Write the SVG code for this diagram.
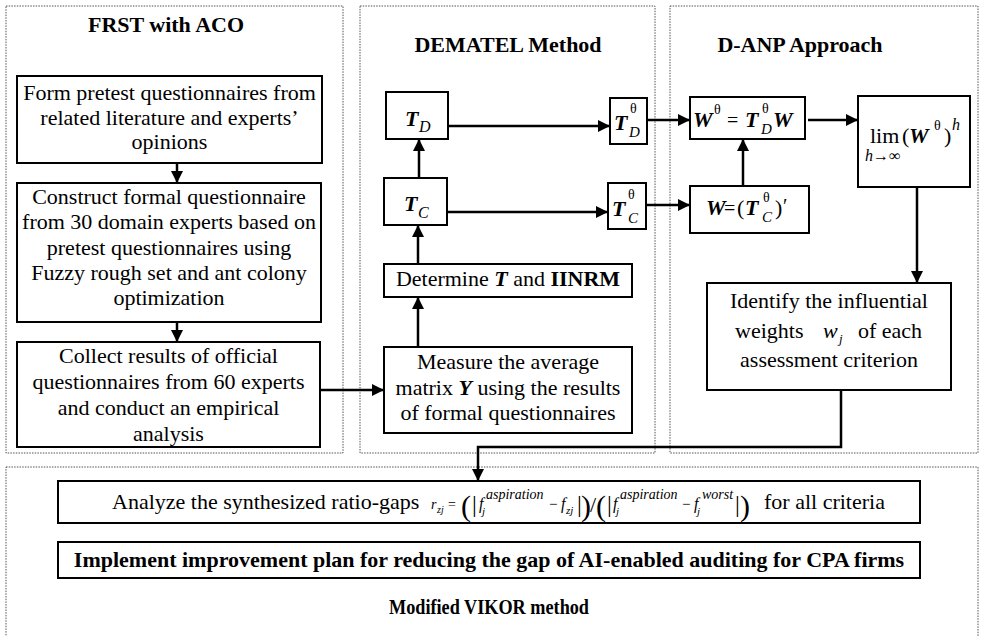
<svg xmlns="http://www.w3.org/2000/svg" width="984" height="636" viewBox="0 0 984 636">
<defs>
<marker id="ah" viewBox="0 0 12 12" refX="12" refY="6" markerWidth="12" markerHeight="12" markerUnits="userSpaceOnUse" orient="auto">
<path d="M0,0 L12,6 L0,12 z" fill="#000"/>
</marker>
<style>
.panel{fill:none;stroke:#555;stroke-width:1;stroke-dasharray:1.5 1.2}
.box{fill:#fff;stroke:#000;stroke-width:2}
text{font-family:"Liberation Serif","Times New Roman",serif;font-size:22px;fill:#000}
.c{text-anchor:middle}
.title{font-weight:bold}
.bi{font-weight:bold;font-style:italic}
.i{font-style:italic}
.b{font-weight:bold}
.conn line,.conn path{stroke:#000;stroke-width:2.5;fill:none;marker-end:url(#ah)}
</style>
</defs>
<rect width="984" height="636" fill="#fff"/>

<g id="panels">
<rect class="panel" x="6" y="6" width="337" height="447"/>
<rect class="panel" x="360" y="6" width="295" height="447"/>
<rect class="panel" x="670" y="6" width="308" height="447"/>
<rect class="panel" x="6" y="467" width="972" height="180"/>
<text class="title c" x="166" y="32">FRST with ACO</text>
<text class="title c" x="508" y="52">DEMATEL Method</text>
<text class="title c" x="800" y="52">D-ANP Approach</text>
<text class="title c" x="489" y="614" textLength="200" lengthAdjust="spacingAndGlyphs">Modified VIKOR method</text>
</g>

<g id="form-pretest">
<rect class="box" x="17" y="76" width="305" height="87"/>
<text class="c" x="169.5" y="100">Form pretest questionnaires from</text>
<text class="c" x="169.5" y="124.5">related literature and experts’</text>
<text class="c" x="169.5" y="149">opinions</text>
</g>

<g id="construct">
<rect class="box" x="17" y="183" width="304" height="139"/>
<text class="c" x="169" y="204">Construct formal questionnaire</text>
<text class="c" x="169" y="229.3">from 30 domain experts based on</text>
<text class="c" x="169" y="254.6">pretest questionnaires using</text>
<text class="c" x="169" y="280">Fuzzy rough set and ant colony</text>
<text class="c" x="169" y="305">optimization</text>
</g>

<g id="collect">
<rect class="box" x="17" y="342" width="303" height="105"/>
<text class="c" x="168.5" y="363">Collect results of official</text>
<text class="c" x="168.5" y="389">questionnaires from 60 experts</text>
<text class="c" x="168.5" y="415">and conduct an empirical</text>
<text class="c" x="168.5" y="441">analysis</text>
</g>

<g id="measure">
<rect class="box" x="384" y="347" width="248" height="86"/>
<text class="c" x="508" y="369">Measure the average</text>
<text class="c" x="508" y="394.5">matrix <tspan class="bi">Y</tspan> using the results</text>
<text class="c" x="508" y="420">of formal questionnaires</text>
</g>

<g id="determine">
<rect class="box" x="384" y="264" width="248" height="33"/>
<text class="c" x="508" y="286">Determine <tspan class="bi">T</tspan> and <tspan class="b">IINRM</tspan></text>
</g>

<g id="tc">
<rect class="box" x="384" y="178" width="63" height="47"/>
<text x="404" y="211" class="bi">T</text>
<text x="418" y="218" class="i" style="font-size:16px">C</text>
</g>

<g id="td">
<rect class="box" x="386" y="92" width="62" height="47"/>
<text x="405" y="126" class="bi">T</text>
<text x="419" y="132" class="i" style="font-size:16px">D</text>
</g>

<g id="td-theta">
<rect class="box" x="610" y="98" width="37" height="46"/>
<text x="614" y="130" class="bi">T</text>
<text x="630" y="113" style="font-size:14px">θ</text>
<text x="629" y="137" class="i" style="font-size:15px">D</text>
</g>

<g id="tc-theta">
<rect class="box" x="608" y="183" width="38" height="46"/>
<text x="612" y="216" class="bi">T</text>
<text x="628" y="199" style="font-size:14px">θ</text>
<text x="628" y="223" class="i" style="font-size:15px">C</text>
</g>

<g id="w-theta">
<rect class="box" x="690" y="97" width="115" height="42"/>
<text x="693" y="127" class="bi">W</text>
<text x="714" y="114" style="font-size:14px">θ</text>
<text x="727" y="127" style="font-size:20px">=</text>
<text x="745" y="127" class="bi">T</text>
<text x="762" y="113" style="font-size:14px">θ</text>
<text x="761" y="134" class="i" style="font-size:15px">D</text>
<text x="773" y="127" class="bi">W</text>
</g>

<g id="w">
<rect class="box" x="690" y="186" width="119" height="47"/>
<text x="706" y="215" class="bi">W</text>
<text x="724" y="215" style="font-size:20px">=</text>
<text x="737" y="215">(</text>
<text x="745" y="215" class="bi">T</text>
<text x="763" y="202" style="font-size:14px">θ</text>
<text x="762" y="222" class="i" style="font-size:15px">C</text>
<text x="775" y="215">)</text>
<text x="783" y="213" style="font-size:20px">′</text>
</g>

<g id="lim">
<rect class="box" x="858" y="96" width="112" height="91"/>
<text x="870" y="143">lim</text>
<text x="902" y="143">(</text>
<text x="909" y="143" class="bi">W</text>
<text x="934" y="130" style="font-size:14px">θ</text>
<text x="944" y="143">)</text>
<text x="952" y="130" class="i" style="font-size:16px">h</text>
<text x="865" y="161" class="i" style="font-size:16px">h→∞</text>
</g>

<g id="identify">
<rect class="box" x="707" y="283" width="244" height="107"/>
<text class="c" x="829" y="308">Identify the influential</text>
<text x="735" y="338">weights</text>
<text x="823" y="338" class="i">w</text>
<text x="839" y="343" class="i" style="font-size:13px">j</text>
<text x="858" y="338">of each</text>
<text class="c" x="829" y="367">assessment criterion</text>
</g>

<g id="analyze">
<rect class="box" x="58" y="481" width="862" height="42"/>
<text x="112" y="509">Analyze the synthesized ratio-gaps</text>
<text x="431" y="509" class="i" style="font-size:14px">r</text>
<text x="437" y="513" class="i" style="font-size:10px">zj</text>
<text x="448" y="509" style="font-size:14px">=</text>
<text x="461" y="516" style="font-size:30px">(</text>
<text x="472" y="512" style="font-size:24px">|</text>
<text x="479" y="509" class="i" style="font-size:16px">f</text>
<text x="482" y="515" class="i" style="font-size:11px">j</text>
<text x="486" y="499" class="i" style="font-size:14px">aspiration</text>
<text x="549" y="509" style="font-size:15px">−</text>
<text x="561" y="509" class="i" style="font-size:16px">f</text>
<text x="566" y="514" class="i" style="font-size:11px">zj</text>
<text x="577" y="512" style="font-size:24px">|</text>
<text x="581" y="516" style="font-size:30px">)</text>
<text x="590" y="512" style="font-size:22px">/</text>
<text x="596" y="516" style="font-size:30px">(</text>
<text x="607" y="512" style="font-size:24px">|</text>
<text x="613" y="509" class="i" style="font-size:16px">f</text>
<text x="616" y="515" class="i" style="font-size:11px">j</text>
<text x="620" y="499" class="i" style="font-size:14px">aspiration</text>
<text x="682" y="509" style="font-size:15px">−</text>
<text x="694" y="509" class="i" style="font-size:16px">f</text>
<text x="697" y="515" class="i" style="font-size:11px">j</text>
<text x="702" y="499" class="i" style="font-size:14px">worst</text>
<text x="735" y="512" style="font-size:24px">|</text>
<text x="740" y="516" style="font-size:30px">)</text>
<text x="764" y="509">for all criteria</text>
</g>

<g id="implement">
<rect class="box" x="58" y="542" width="862" height="36"/>
<text class="c b" x="489" y="567">Implement improvement plan for reducing the gap of AI-enabled auditing for CPA firms</text>
</g>

<g class="conn" id="connectors">
<line x1="177" y1="163" x2="177" y2="183"/>
<line x1="177" y1="322" x2="177" y2="342"/>
<line x1="320" y1="390" x2="384" y2="390"/>
<line x1="418" y1="347" x2="418" y2="297"/>
<line x1="418" y1="264" x2="418" y2="225"/>
<line x1="419" y1="178" x2="419" y2="139"/>
<line x1="448" y1="126" x2="610" y2="126"/>
<line x1="447" y1="212" x2="608" y2="212"/>
<line x1="647" y1="120" x2="690" y2="120"/>
<line x1="646" y1="205" x2="690" y2="205"/>
<line x1="743" y1="186" x2="743" y2="139"/>
<line x1="808" y1="120" x2="858" y2="120"/>
<line x1="917" y1="187" x2="917" y2="283"/>
<path d="M841,390 V447 H478 V481"/>
</g>
</svg>
